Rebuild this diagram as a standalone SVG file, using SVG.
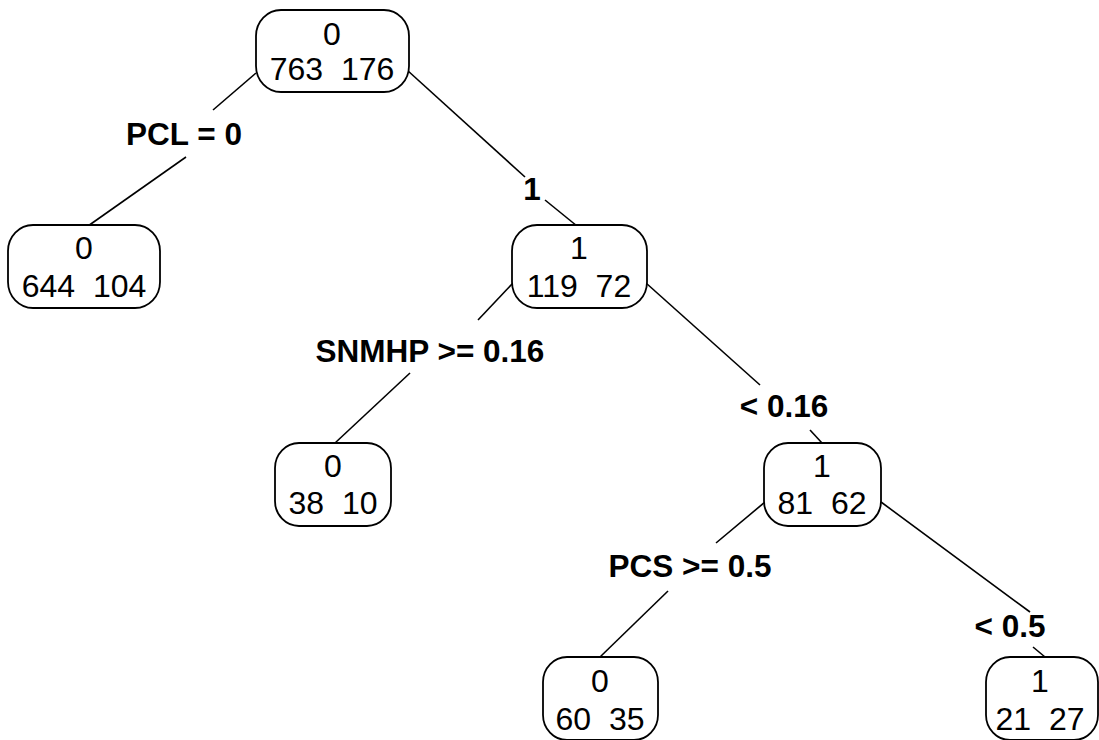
<svg xmlns="http://www.w3.org/2000/svg" width="1099" height="740" viewBox="0 0 1099 740">
  <style>
    .box { fill: #ffffff; stroke: #000000; stroke-width: 1.8; }
    .edge { stroke: #000000; stroke-width: 1.6; fill: none; }
    .nt { font-family: "Liberation Sans", Arial, sans-serif; font-size: 32px; fill: #000000; text-anchor: middle; white-space: pre; }
    .split { font-family: "Liberation Sans", Arial, sans-serif; font-size: 31.5px; font-weight: bold; fill: #000000; text-anchor: middle; }
  </style>

  <!-- branches between nodes, broken where split labels sit -->
  <g id="connectors">
    <line class="edge" x1="256" y1="73" x2="213" y2="110"/>
    <line class="edge" x1="186" y1="157" x2="88" y2="226"/>
    <line class="edge" x1="407" y1="70" x2="525" y2="177"/>
    <line class="edge" x1="545" y1="200" x2="577" y2="226"/>
    <line class="edge" x1="513" y1="283" x2="478" y2="320"/>
    <line class="edge" x1="410" y1="373" x2="335" y2="443"/>
    <line class="edge" x1="646" y1="283" x2="760" y2="385"/>
    <line class="edge" x1="810" y1="430" x2="822" y2="443"/>
    <line class="edge" x1="765" y1="502" x2="716" y2="543"/>
    <line class="edge" x1="668" y1="591" x2="600" y2="657"/>
    <line class="edge" x1="881" y1="502" x2="1030" y2="612"/>
    <line class="edge" x1="1033" y1="647" x2="1045" y2="657"/>
  </g>

  <!-- split labels -->
  <g id="labels">
    <text class="split" x="184" y="145">PCL = 0</text>
    <text class="split" x="532" y="200">1</text>
    <text class="split" x="430" y="362">SNMHP &gt;= 0.16</text>
    <text class="split" x="784" y="417">&lt; 0.16</text>
    <text class="split" x="690" y="577">PCS &gt;= 0.5</text>
    <text class="split" x="1010" y="637">&lt; 0.5</text>
  </g>

  <g id="node1">
    <rect class="box" x="256" y="10" width="153" height="82" rx="25" ry="26"/>
    <text class="nt" x="332" y="45">0</text>
    <text class="nt" x="332" y="80" xml:space="preserve">763  176</text>
  </g>

  <g id="node2">
    <rect class="box" x="8" y="225" width="152" height="83" rx="25" ry="26"/>
    <text class="nt" x="84" y="259">0</text>
    <text class="nt" x="84" y="297" xml:space="preserve">644  104</text>
  </g>

  <g id="node3">
    <rect class="box" x="512" y="225" width="135" height="83" rx="25" ry="26"/>
    <text class="nt" x="579" y="259">1</text>
    <text class="nt" x="579" y="297" xml:space="preserve">119  72</text>
  </g>

  <g id="node6">
    <rect class="box" x="275" y="443" width="116" height="83" rx="24" ry="25"/>
    <text class="nt" x="333" y="477">0</text>
    <text class="nt" x="333" y="514" xml:space="preserve">38  10</text>
  </g>

  <g id="node7">
    <rect class="box" x="764" y="443" width="117" height="83" rx="24" ry="25"/>
    <text class="nt" x="822" y="477">1</text>
    <text class="nt" x="822" y="514" xml:space="preserve">81  62</text>
  </g>

  <g id="node14">
    <rect class="box" x="543" y="657" width="115" height="83" rx="24" ry="25"/>
    <text class="nt" x="600" y="692">0</text>
    <text class="nt" x="600" y="730" xml:space="preserve">60  35</text>
  </g>

  <g id="node15">
    <rect class="box" x="986" y="657" width="112" height="83" rx="24" ry="25"/>
    <text class="nt" x="1040" y="692">1</text>
    <text class="nt" x="1040" y="730" xml:space="preserve">21  27</text>
  </g>
</svg>
